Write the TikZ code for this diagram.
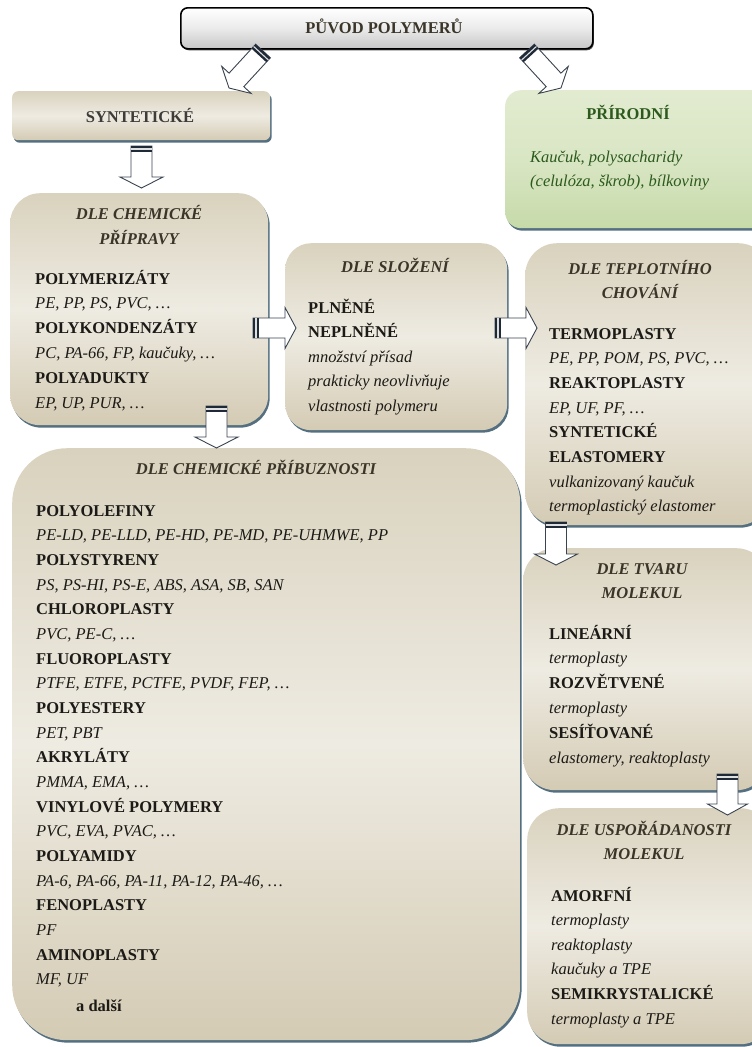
\documentclass[tikz,border=0pt]{standalone}
\usepackage{fontspec}
\setmainfont{Liberation Serif}
\usetikzlibrary{calc,shadows}
\definecolor{bT}{HTML}{D9D2BE}
\definecolor{bM}{HTML}{EEEBE2}
\definecolor{bB}{HTML}{D4CBB4}
\definecolor{gT}{HTML}{E2EBD0}
\definecolor{gM}{HTML}{D9E6C4}
\definecolor{gB}{HTML}{C6DAA9}
\definecolor{shd}{HTML}{536F80}
\definecolor{ttlc}{HTML}{3A3528}
\definecolor{txt}{HTML}{1C1A16}
\definecolor{grn}{HTML}{2C5A1C}
\definecolor{arrline}{HTML}{3A4450}
\definecolor{bandc}{HTML}{1F2A38}
\tikzset{
  box/.style={draw=none, rounded corners=#1, inner sep=0pt, anchor=north west,
    top color=bT, bottom color=bB, middle color=bM,
    drop shadow={shadow xshift=1.5pt, shadow yshift=-2.5pt, fill=shd, opacity=1}},
  gbox/.style={draw=none, rounded corners=#1, inner sep=0pt, anchor=north west,
    top color=gT, bottom color=gB, middle color=gM,
    drop shadow={shadow xshift=1.5pt, shadow yshift=-2.5pt, fill=shd, opacity=1}},
  fs/.style={font=\fontsize{16.5}{20}\selectfont},
  hd/.style={fs, font=\fontsize{16.5}{20}\selectfont\bfseries, text=txt, anchor=base west, inner sep=0pt},
  it/.style={font=\fontsize{16.5}{20}\selectfont\itshape, text=txt, anchor=base west, inner sep=0pt},
  ttl/.style={font=\fontsize{16.5}{20}\selectfont\bfseries\itshape, text=ttlc, anchor=base, inner sep=0pt},
  arr/.style={fill=white, draw=arrline, line width=0.9pt, line join=miter},
  band/.style={fill=bandc},
}
\newcommand\blkarrow[5]{%
  \filldraw[arr] ($(#1)!#3!90:(#2)$) -- ($(#2)!#5!(#1)!#3!-90:(#1)$) -- ($(#2)!#5!(#1)!#4!-90:(#1)$) -- (#2)
     -- ($(#2)!#5!(#1)!#4!90:(#1)$) -- ($(#2)!#5!(#1)!#3!90:(#1)$) -- ($(#1)!#3!-90:(#2)$) -- cycle;
  \fill[band] ($(#1)!#3!90:(#2)$) -- ($(#1)!6pt!(#2)!#3!-90:(#1)$) -- ($(#1)!6pt!(#2)!#3!90:(#1)$) -- ($(#1)!#3!-90:(#2)$) -- cycle;
  \draw[white!75!gray, line width=1.1pt] ($(#1)!3pt!(#2)!#3!-90:(#1)$) -- ($(#1)!3pt!(#2)!#3!90:(#1)$);
}
\begin{document}
\begin{tikzpicture}[x=1pt,y=-1pt]
\useasboundingbox (0,0) rectangle (752,1047);
\clip (0,0) rectangle (752,1047);
\fill[white] (0,0) rectangle (752,1047);

% boxes
\node[draw=black, line width=1.6pt, rounded corners=7pt, inner sep=0pt, anchor=north west,
      top color=white, bottom color=black!22, middle color=white!92!black,
      drop shadow={shadow xshift=1pt, shadow yshift=-1.5pt, fill=black!70, opacity=1},
      minimum width=412pt, minimum height=41pt] (top) at (180,7) {};
\node[box=6pt, minimum width=258pt, minimum height=49pt] (syn) at (12,91) {};
\node[gbox=16pt, minimum width=262pt, minimum height=138pt] (pri) at (505,90) {};
\node[box=30pt, minimum width=258pt, minimum height=232pt] (chp) at (10,193) {};
\node[box=26pt, minimum width=222pt, minimum height=187pt] (slo) at (285,243) {};
\node[box=32pt, minimum width=245pt, minimum height=282pt] (tep) at (525,243) {};
\node[box=55pt, minimum width=508pt, minimum height=592pt] (pbz) at (12,448) {};
\node[box=32pt, minimum width=245pt, minimum height=242pt] (tva) at (523,548) {};
\node[box=32pt, minimum width=245pt, minimum height=236pt] (usp) at (527,808) {};

% top texts
\node[font=\fontsize{16.5}{20}\selectfont\bfseries, text=ttlc, anchor=base, inner sep=0pt] (topt) at (384,33) {PŮVOD POLYMERŮ};
\node[font=\fontsize{16.5}{20}\selectfont\bfseries, text=txt!85!white, anchor=base, inner sep=0pt] (synt) at (140,122) {SYNTETICKÉ};
\node[font=\fontsize{16.5}{20}\selectfont\bfseries, text=grn, anchor=base, inner sep=0pt] (prit) at (628,119) {PŘÍRODNÍ};
\node[it, text=grn] (pri1) at (530,162) {Kaučuk, polysacharidy};
\node[it, text=grn] (pri2) at (530,186) {(celulóza, škrob), bílkoviny};

% titles
\node[ttl] (chpt1) at (139,219) {DLE CHEMICKÉ};
\node[ttl] (chpt2) at (139,244) {PŘÍPRAVY};
\node[ttl] (slot) at (395,272) {DLE SLOŽENÍ};
\node[ttl] (tept1) at (640,274) {DLE TEPLOTNÍHO};
\node[ttl] (tept2) at (640,298) {CHOVÁNÍ};
\node[ttl] (pbzt) at (256,474) {DLE CHEMICKÉ PŘÍBUZNOSTI};
\node[ttl] (tvat1) at (642,574) {DLE TVARU};
\node[ttl] (tvat2) at (642,598) {MOLEKUL};
\node[ttl] (uspt1) at (644,835) {DLE USPOŘÁDANOSTI};
\node[ttl] (uspt2) at (644,859) {MOLEKUL};

% contents
\foreach \s/\t [count=\i from 0] in {hd/POLYMERIZÁTY, it/{PE, PP, PS, PVC, …}, hd/POLYKONDENZÁTY,
   it/{PC, PA-66, FP, kaučuky, …}, hd/POLYADUKTY, it/{EP, UP, PUR, …}}
   \node[\s] (chp\i) at (35,{284+24.8*\i}) {\t};
\foreach \s/\t [count=\i from 0] in {hd/PLNĚNÉ, hd/NEPLNĚNÉ, it/množství přísad,
   it/prakticky neovlivňuje, it/vlastnosti polymeru}
   \node[\s] (slo\i) at (308,{313+24.5*\i}) {\t};
\foreach \s/\t [count=\i from 0] in {hd/TERMOPLASTY, it/{PE, PP, POM, PS, PVC, …}, hd/REAKTOPLASTY,
   it/{EP, UF, PF, …}, hd/SYNTETICKÉ, hd/ELASTOMERY, it/vulkanizovaný kaučuk, it/termoplastický elastomer}
   \node[\s] (tep\i) at (549,{339+24.7*\i}) {\t};
\foreach \s/\t [count=\i from 0] in {hd/POLYOLEFINY, it/{PE-LD, PE-LLD, PE-HD, PE-MD, PE-UHMWE, PP},
   hd/POLYSTYRENY, it/{PS, PS-HI, PS-E, ABS, ASA, SB, SAN}, hd/CHLOROPLASTY, it/{PVC, PE-C, …},
   hd/FLUOROPLASTY, it/{PTFE, ETFE, PCTFE, PVDF, FEP, …}, hd/POLYESTERY, it/{PET, PBT},
   hd/AKRYLÁTY, it/{PMMA, EMA, …}, hd/VINYLOVÉ POLYMERY, it/{PVC, EVA, PVAC, …},
   hd/POLYAMIDY, it/{PA-6, PA-66, PA-11, PA-12, PA-46, …}, hd/FENOPLASTY, it/PF,
   hd/AMINOPLASTY, it/{MF, UF}}
   \node[\s] (pbz\i) at (36,{516+24.68*\i}) {\t};
\node[hd] (pbzx) at (76,1011) {a další};
\foreach \s/\t [count=\i from 0] in {hd/LINEÁRNÍ, it/termoplasty, hd/ROZVĚTVENÉ, it/termoplasty,
   hd/SESÍŤOVANÉ, it/{elastomery, reaktoplasty}}
   \node[\s] (tva\i) at (549,{639+24.8*\i}) {\t};
\foreach \s/\t [count=\i from 0] in {hd/AMORFNÍ, it/termoplasty, it/reaktoplasty, it/kaučuky a TPE,
   hd/SEMIKRYSTALICKÉ, it/termoplasty a TPE}
   \node[\s] (usp\i) at (551,{901+24.6*\i}) {\t};

% arrow coordinates
\coordinate (a1t) at (263,51);  \coordinate (a1h) at (229,88);
\coordinate (a2t) at (527,51);  \coordinate (a2h) at (561,88);
\coordinate (a3t) at (141.5,146); \coordinate (a3h) at (141.5,188);
\coordinate (a4t) at (253,328); \coordinate (a4h) at (296,328);
\coordinate (a5t) at (495,328); \coordinate (a5h) at (537,328);
\coordinate (a6t) at (216.5,406); \coordinate (a6h) at (216.5,448);
\coordinate (a7t) at (556,522); \coordinate (a7h) at (556,565);
\coordinate (a8t) at (727.5,774); \coordinate (a8h) at (727.5,815);

\blkarrow{a1t}{a1h}{10pt}{20pt}{11pt}
\blkarrow{a2t}{a2h}{10pt}{20pt}{11pt}
\blkarrow{a3t}{a3h}{10.5pt}{21.5pt}{11pt}
\blkarrow{a4t}{a4h}{10pt}{20.5pt}{11pt}
\blkarrow{a5t}{a5h}{10pt}{20.5pt}{11pt}
\blkarrow{a6t}{a6h}{10.5pt}{21.5pt}{11pt}
\blkarrow{a7t}{a7h}{10.5pt}{21.5pt}{11pt}
\blkarrow{a8t}{a8h}{10.5pt}{20pt}{11pt}
\end{tikzpicture}
\end{document}
